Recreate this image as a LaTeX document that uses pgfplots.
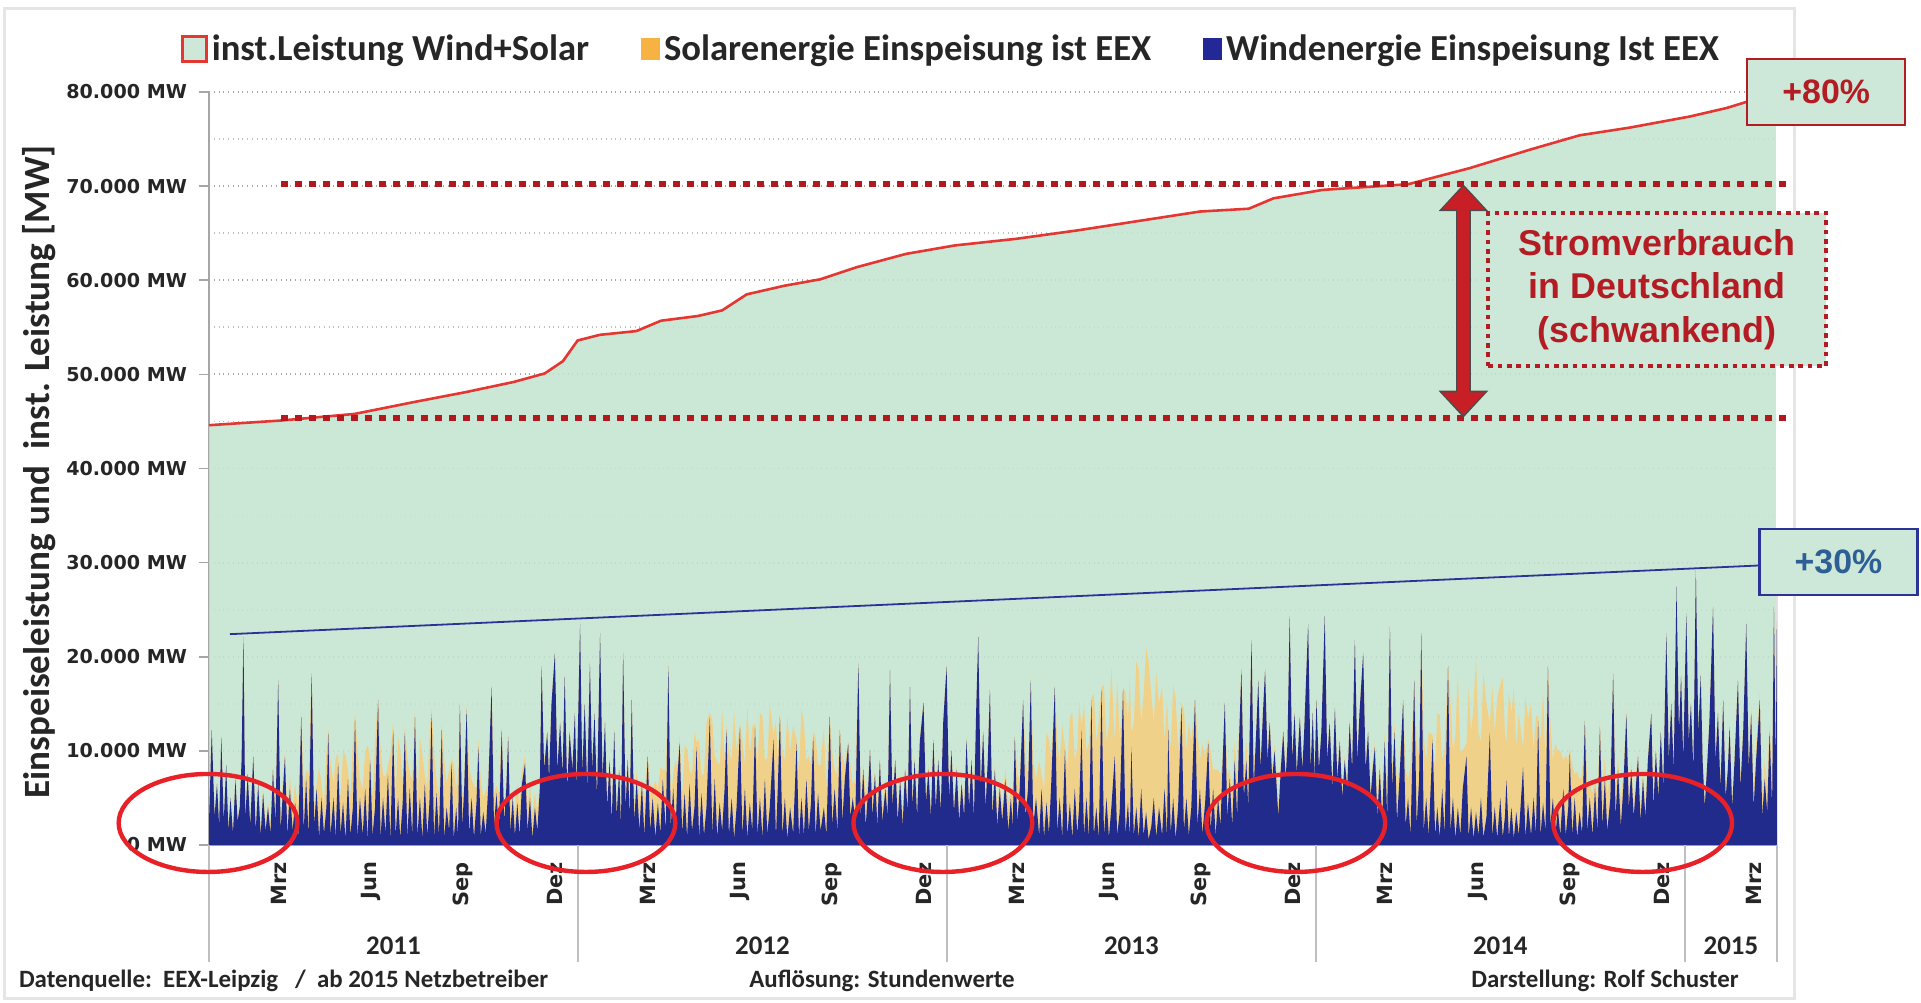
\documentclass[border=0pt]{standalone}
\usepackage{fontspec}
\setmainfont{Carlito}
\newfontfamily\tickfont{DejaVu Sans}
\newfontfamily\arialfont{Liberation Sans}
\usepackage{pgfplots}
\pgfplotsset{compat=1.18}
\usepackage{pgfplotstable}
\usetikzlibrary{arrows.meta}

\definecolor{greenfill}{RGB}{195,228,209}
\definecolor{greenbox}{RGB}{205,232,217}
\definecolor{redline}{RGB}{228,55,50}
\definecolor{solarfill}{RGB}{246,206,125}
\definecolor{solarleg}{RGB}{245,166,35}
\definecolor{windblue}{RGB}{33,43,140}
\definecolor{windleg}{RGB}{35,40,150}
\definecolor{circred}{RGB}{232,32,40}
\definecolor{darkred}{RGB}{180,28,36}
\definecolor{dotred}{RGB}{178,24,30}
\definecolor{arrowred}{RGB}{200,30,38}
\definecolor{navy}{RGB}{45,50,150}
\definecolor{steel}{RGB}{45,95,150}

\pgfplotstableread{
m cap
0.00 44600
2.35 45100
4.74 45800
6.73 47100
8.33 48100
9.92 49200
10.92 50100
11.51 51400
11.99 53600
12.71 54200
13.90 54600
14.70 55700
15.90 56200
16.69 56800
17.49 58500
18.69 59400
19.88 60100
21.08 61400
22.67 62800
24.26 63700
26.25 64400
28.25 65300
30.24 66300
32.23 67300
33.82 67600
34.62 68700
36.22 69600
39.00 70200
40.99 71900
42.99 73900
44.58 75400
46.18 76200
48.17 77400
49.36 78300
50.96 79900
}\capacity

\pgfplotstableread{
m wind solar
0.00 2500 200
0.09 12200 0
0.18 3000 300
0.26 6500 200
0.33 2000 300
0.40 11500 0
0.48 2500 300
0.56 8500 200
0.63 1500 300
0.70 5000 200
0.78 1200 300
0.86 7000 200
0.93 2500 300
1.00 4000 300
1.06 9000 200
1.12 22100 0
1.18 3000 400
1.26 7500 300
1.34 2000 500
1.44 9400 300
1.52 1500 600
1.60 6500 400
1.68 1000 700
1.76 5500 500
1.84 1500 800
1.92 4000 700
2.00 1200 1000
2.08 8000 600
2.16 2500 1200
2.25 17500 300
2.33 1500 1500
2.40 5500 1200
2.47 9400 500
2.55 1000 2000
2.63 6000 1500
2.72 1500 2500
2.80 4500 2000
2.90 800 3000
3.00 13600 500
3.08 1500 5000
3.16 7000 1000
3.24 1000 6500
3.34 18200 300
3.42 2000 2000
3.50 6000 500
3.58 800 7500
3.66 5000 1500
3.74 1200 3000
3.82 4000 6000
3.88 11900 500
3.95 1000 8000
4.05 5000 1500
4.12 800 8500
4.20 8700 1000
4.28 1200 3500
4.36 4500 5500
4.44 600 9000
4.52 7000 1000
4.60 1000 4000
4.68 4000 7000
4.75 13300 800
4.83 800 9500
4.91 5000 2000
5.00 1000 5000
5.08 6000 4000
5.16 600 10000
5.24 9000 500
5.32 1000 4000
5.40 4000 7000
5.50 15400 500
5.58 800 9500
5.66 5000 2500
5.74 1200 6000
5.82 7500 1000
5.90 600 9000
5.99 12200 1000
6.07 1000 4000
6.15 5000 6500
6.22 700 9500
6.30 4500 2000
6.37 11900 1000
6.45 800 8500
6.53 6000 1500
6.61 1000 6000
6.70 13600 800
6.78 900 3000
6.86 5000 6500
6.94 700 9000
7.02 6500 1000
7.10 1000 5000
7.17 4500 7000
7.24 13900 800
7.32 800 9000
7.40 5500 1500
7.48 1000 4500
7.57 12200 800
7.65 700 8500
7.73 4000 2500
7.81 1500 6500
7.89 8700 500
7.96 600 8000
8.04 4000 2000
8.10 1000 6500
8.16 14900 500
8.24 2000 3000
8.30 6000 1000
8.38 14400 500
8.46 1200 7000
8.54 5000 2000
8.62 800 5500
8.70 4500 1500
8.76 10400 800
8.84 1000 6000
8.92 3500 1500
9.00 1200 4500
9.08 6000 800
9.19 16800 300
9.27 2000 3500
9.35 5500 800
9.43 1500 4000
9.52 12200 500
9.60 2500 1500
9.67 6000 500
9.73 11500 500
9.80 1500 3000
9.88 5000 500
9.95 1000 2500
10.03 4500 2000
10.10 1000 3000
10.18 6500 1500
10.28 8700 800
10.36 1500 2500
10.44 5000 1500
10.52 700 2500
10.60 4000 1500
10.68 1500 2000
10.76 6000 800
10.82 19000 200
10.90 8000 800
11.00 12000 300
11.06 7000 500
11.14 15000 300
11.25 20400 200
11.33 8000 500
11.42 13000 300
11.50 7500 500
11.57 17900 200
11.65 6000 500
11.73 12000 300
11.82 8000 400
11.90 14000 300
11.96 6000 500
12.07 23500 100
12.14 7500 400
12.22 15000 300
12.30 6000 500
12.39 19300 200
12.46 8000 400
12.54 14000 300
12.62 5000 500
12.72 22500 100
12.80 7000 400
12.88 13000 300
12.95 4000 600
13.03 9000 500
13.10 2500 800
13.18 12000 400
13.26 3000 900
13.34 8000 600
13.40 2000 1000
13.47 20400 200
13.55 4000 1000
13.62 9000 700
13.68 3000 1200
13.75 15400 300
13.83 2500 1500
13.91 7000 1000
14.00 1500 3000
14.08 6500 500
14.16 1000 4000
14.27 9400 300
14.35 1500 5000
14.43 5000 1000
14.52 800 6000
14.60 4500 1500
14.68 1200 7000
14.76 7000 1000
14.86 1500 6500
14.94 19000 500
15.02 2000 3000
15.10 6000 1500
15.17 1000 8000
15.24 7500 800
15.31 10800 1000
15.39 1200 4000
15.47 5500 5000
15.55 800 9500
15.63 6500 1500
15.71 1500 6000
15.79 4000 8000
15.86 10400 500
15.94 800 10500
16.02 5500 2000
16.10 1000 6500
16.18 4000 9000
16.29 13600 500
16.37 1200 12000
16.45 7000 2500
16.53 800 8000
16.61 4500 4000
16.69 1500 13000
16.77 6000 3000
16.83 12200 500
16.91 1000 9000
17.00 5000 4000
17.08 700 13500
17.16 4000 6000
17.27 12500 500
17.35 1000 10000
17.43 6000 2500
17.51 800 14000
17.59 4500 5000
17.67 1500 11000
17.76 12500 500
17.84 1000 7000
17.92 5000 9000
18.00 800 13000
18.08 7000 2000
18.16 1200 8000
18.24 4000 11000
18.36 11200 500
18.44 800 12500
18.50 6000 3000
18.57 13600 500
18.65 1000 9000
18.73 5000 4000
18.81 700 13000
18.90 4000 6000
19.00 1200 11500
19.11 10800 500
19.19 800 7000
19.27 5000 9500
19.35 1000 12000
19.43 7000 2000
19.51 1500 8000
19.58 4500 4000
19.65 11500 500
19.73 1000 10500
19.81 5500 3000
19.89 1500 7000
20.00 4000 8500
20.08 1000 5000
20.19 13600 300
20.27 2000 8000
20.35 6000 2000
20.44 1500 6000
20.52 12200 300
20.60 2500 7000
20.68 7000 1500
20.79 10800 300
20.86 3000 5500
20.94 5000 1500
21.02 2500 4500
21.12 19300 300
21.20 3000 2000
21.28 8000 500
21.36 2000 3500
21.44 6000 800
21.50 10100 300
21.58 3000 2500
21.66 7500 500
21.74 2000 2000
21.82 9000 300
21.90 2500 1500
22.00 6000 1000
22.07 3000 1500
22.15 18600 300
22.23 4000 1000
22.32 9000 500
22.40 2500 1200
22.48 7000 700
22.56 2000 1200
22.64 8000 600
22.72 3500 1000
22.80 16800 300
22.88 4000 800
22.95 9000 500
23.03 3000 800
23.12 11000 400
23.24 15100 300
23.32 4500 600
23.40 8000 500
23.48 3000 700
23.56 11200 300
23.64 4000 600
23.72 9000 400
23.80 3500 600
23.88 13000 300
23.99 19000 200
24.07 5000 600
24.15 10000 400
24.23 3500 700
24.32 8000 500
24.40 2500 800
24.48 6500 600
24.56 3000 800
24.64 11200 300
24.72 4000 700
24.80 9000 500
24.88 3000 800
24.95 14000 300
25.02 22100 100
25.10 6000 600
25.18 12000 400
25.26 4000 800
25.33 9000 600
25.40 16500 300
25.48 3000 900
25.56 8000 700
25.64 2000 1200
25.72 6000 1000
25.80 2500 1500
25.90 7000 1200
26.00 1500 3000
26.08 5000 800
26.14 2000 4000
26.21 11500 300
26.29 2500 5000
26.37 6000 1000
26.48 15400 300
26.56 3000 6000
26.64 6000 1500
26.73 17500 500
26.81 2000 7000
26.90 5000 2000
27.00 1000 8000
27.08 6000 1500
27.16 800 5000
27.24 4500 7500
27.32 1200 10000
27.40 7000 2000
27.51 16800 300
27.59 1500 9500
27.67 5000 3500
27.75 800 12000
27.84 10100 500
27.92 1000 7000
28.00 4500 9000
28.08 700 13500
28.16 6000 3000
28.24 1200 9000
28.30 4000 11000
28.38 12200 500
28.46 1000 14000
28.54 5000 5000
28.62 800 10000
28.70 15400 300
28.78 1000 15000
28.86 4000 7000
28.94 700 12500
29.03 16500 300
29.11 1000 16000
29.19 5000 6000
29.27 800 12000
29.35 4000 15000
29.46 9400 1500
29.54 1000 16500
29.62 3500 8000
29.73 16500 300
29.81 1200 15000
29.89 4500 9000
29.95 800 17000
30.00 10400 1500
30.08 1000 12000
30.16 4000 15500
30.24 700 18000
30.32 6000 7000
30.40 1000 15000
30.48 3500 17500
30.56 600 19000
30.65 2000 14000
30.73 5000 8000
30.81 800 17500
30.90 4000 11000
31.00 1000 16000
31.08 6000 5000
31.16 800 14500
31.20 12200 500
31.28 1200 9000
31.36 5000 12000
31.44 700 15000
31.52 4000 6000
31.63 14600 500
31.71 1500 13000
31.79 5000 5000
31.87 1000 12000
31.95 4000 7000
32.07 15400 300
32.15 2000 10000
32.23 6000 3000
32.31 1200 9500
32.40 4500 5000
32.50 10800 500
32.58 1500 8500
32.66 6000 2000
32.74 1000 7000
32.82 5000 3000
32.90 2000 5500
32.96 8000 1000
33.04 15100 300
33.12 3000 4500
33.20 7000 1000
33.28 2000 3500
33.36 9000 2000
33.44 3000 4000
33.50 11000 1500
33.58 18600 500
33.66 5000 3000
33.74 9000 2000
33.80 4000 3000
33.91 21800 300
33.98 6000 2000
34.06 12000 700
34.13 17500 400
34.20 8000 1000
34.28 14000 500
34.35 18600 300
34.43 9000 800
34.50 13000 600
34.58 7000 1000
34.66 10000 700
34.78 3000 1200
34.86 8000 800
34.94 12000 500
35.02 7000 700
35.08 11000 400
35.15 24300 100
35.23 9000 500
35.31 14000 300
35.38 7500 500
35.48 13600 300
35.56 8000 500
35.62 12000 300
35.75 23500 100
35.83 8000 500
35.90 14000 300
35.96 7000 500
36.02 15400 300
36.10 8000 500
36.18 12000 300
36.29 24300 100
36.37 9000 500
36.45 13000 300
36.54 6000 600
36.62 14600 300
36.70 7000 600
36.78 11000 400
36.86 5000 700
36.94 9000 500
37.02 6000 700
37.10 13000 400
37.18 8000 600
37.27 21800 200
37.35 9000 500
37.42 14000 300
37.54 20400 200
37.62 8000 600
37.70 12000 400
37.78 5000 800
37.85 8000 700
37.92 10400 600
38.00 3000 1500
38.08 8000 1200
38.16 2500 2000
38.24 11000 1000
38.32 3000 2500
38.41 23200 200
38.48 6000 2000
38.56 12000 1000
38.64 2500 4000
38.72 7000 1000
38.84 15400 300
38.92 2000 6000
39.00 5000 2000
39.08 1000 7500
39.20 17500 300
39.28 2000 9000
39.36 7000 2500
39.43 22500 200
39.51 1500 10000
39.59 5000 4000
39.67 1000 11000
39.80 11200 500
39.88 1000 7000
39.95 4000 10000
40.03 800 13000
40.11 6000 3000
40.19 1200 9000
40.30 19000 300
40.38 1500 14000
40.46 5000 5000
40.54 700 11000
40.62 4000 14500
40.70 1000 9000
40.78 6000 4000
40.90 9400 1500
40.97 800 16000
41.05 4000 8000
41.13 700 14000
41.21 3500 16500
41.29 1000 11000
41.37 5000 6000
41.45 800 17500
41.55 3000 12000
41.66 11900 1000
41.74 1000 16000
41.82 4000 8000
41.90 700 15000
42.00 5000 12000
42.08 800 17000
42.15 3000 9000
42.20 6900 4000
42.28 800 15500
42.36 4000 10000
42.44 700 16000
42.52 3500 7000
42.60 1000 13000
42.74 8300 2000
42.82 800 15000
42.90 4500 9000
43.00 1000 14000
43.08 5000 5000
43.16 1200 12500
43.23 13200 500
43.31 1000 10000
43.39 4500 12000
43.47 1500 7000
43.55 19000 300
43.63 2000 11000
43.71 5000 4000
43.79 800 10000
43.87 4000 6000
43.95 1000 9000
44.05 6000 3000
44.13 1000 8500
44.21 4000 5000
44.26 9700 800
44.34 1000 7500
44.42 5000 2500
44.50 800 7000
44.58 3500 3500
44.66 1200 6000
44.75 13200 300
44.83 1500 5000
44.91 5000 1500
45.00 1000 4500
45.08 6000 1000
45.16 1500 3500
45.24 12500 1000
45.32 2000 4000
45.40 7000 2500
45.48 1500 4000
45.58 5000 2500
45.67 18200 500
45.75 3000 3000
45.83 8000 1500
45.92 2000 2500
46.00 6000 1500
46.10 13900 500
46.18 4000 1500
46.26 8000 800
46.34 3000 1500
46.48 9400 600
46.56 2500 1500
46.64 7000 800
46.72 3000 1200
46.80 9000 500
46.91 13900 400
46.98 4000 1000
47.06 10000 500
47.14 5000 800
47.22 12000 400
47.30 6000 700
47.40 22500 200
47.48 9000 500
47.56 15000 300
47.64 8000 500
47.73 27500 100
47.81 12000 400
47.88 18000 300
47.95 9000 500
48.05 24600 100
48.13 11000 400
48.20 15000 300
48.28 8000 500
48.36 29200 100
48.44 12000 400
48.52 18000 300
48.58 9000 500
48.65 4000 700
48.72 8000 500
48.80 13000 400
48.92 25300 100
49.00 9000 500
49.08 14000 400
49.16 6000 700
49.25 15400 400
49.33 5000 800
49.40 8000 600
49.46 12500 500
49.54 4000 1000
49.62 9000 700
49.73 17500 400
49.81 6000 1000
49.90 12000 700
50.00 23500 300
50.08 8000 1200
50.16 14000 800
50.24 4000 2000
50.32 9000 1500
50.44 15400 800
50.52 3000 2500
50.60 7000 2000
50.68 3500 3000
50.76 12000 1200
50.84 4000 3000
50.90 25300 500
50.96 8000 2000
51.00 27000 500
}\energy

\begin{document}
\begin{tikzpicture}
\useasboundingbox (0,0) rectangle (960.5bp,501.5bp);
\fill[white] (0,0) rectangle (960.5bp,501.5bp);
\draw[black!10, line width=1.5bp] (2bp,2bp) rectangle (897bp,497bp);
\begin{axis}[
  at={(104.5bp,79bp)}, anchor=south west,
  scale only axis, width=784bp, height=376.5bp,
  xmin=0, xmax=51, ymin=0, ymax=80000,
  scaled y ticks=false,
  clip=false,
  axis x line*=bottom, axis y line*=left,
  axis line style={draw=black!35, line width=0.8bp},
  xtick={2,5,8,11,14,17,20,23,26,29,32,35,38,41,44,47,50},
  xticklabels={Mrz,Jun,Sep,Dez,Mrz,Jun,Sep,Dez,Mrz,Jun,Sep,Dez,Mrz,Jun,Sep,Dez,Mrz},
  x tick label style={rotate=90, anchor=east, font=\tickfont\bfseries\fontsize{10.5}{12}\selectfont, text=black!85, yshift=-4bp},
  xtick style={draw=none},
  ytick={0,10000,20000,30000,40000,50000,60000,70000,80000},
  yticklabels={0 MW,10.000 MW,20.000 MW,30.000 MW,40.000 MW,50.000 MW,60.000 MW,70.000 MW,80.000 MW},
  minor ytick={5000,15000,25000,35000,45000,55000,65000,75000},
  y tick label style={font=\tickfont\bfseries\fontsize{9.6}{11}\selectfont, text=black!85, xshift=-2.5bp},
  tick align=outside, major tick length=5bp, minor tick length=0pt,
  ytick style={draw=black!35, line width=0.8bp},
  ymajorgrids, yminorgrids,
  major grid style={draw=black!35, dotted, line width=0.9bp},
  minor grid style={draw=black!25, dotted, line width=0.9bp},
  ylabel={Einspeiseleistung und\ \ inst. Leistung [MW]},
  ylabel style={at={(axis description cs:-0.1084,0.4954)}, anchor=center, font=\bfseries\fontsize{18.6}{20}\selectfont, text=black!85},
  legend columns=3,
  legend style={at={(axis description cs:0.4738,1.057)}, anchor=center, draw=none, fill=none,
    font=\bfseries\fontsize{18.4}{20}\selectfont, text=black!85,
    /tikz/every even column/.append style={column sep=24bp}},
]
\addplot[fill=greenfill, fill opacity=0.85, draw=none, forget plot] table[x=m,y=cap]{\capacity} \closedcycle;
\addplot[draw=redline, line width=1.3bp,
  legend image code/.code={\draw[fill=greenbox, draw=redline, line width=1.5bp] (0bp,-6.3bp) rectangle (12bp,6.3bp);}]
  table[x=m,y=cap]{\capacity};
\addlegendentry{inst.Leistung Wind+Solar}
\addplot[fill=solarfill, fill opacity=0.85, draw=none,
  legend image code/.code={\fill[solarleg] (0bp,-5.5bp) rectangle (9.5bp,5.5bp);}]
  table[x=m, y expr=\thisrow{wind}+\thisrow{solar}]{\energy} \closedcycle;
\addlegendentry{Solarenergie Einspeisung ist EEX}
\addplot[fill=windblue, draw=none,
  legend image code/.code={\fill[windleg] (0bp,-5.5bp) rectangle (9.5bp,5.5bp);}]
  table[x=m,y=wind]{\energy} \closedcycle;
\addlegendentry{Windenergie Einspeisung Ist EEX}

% year separators and labels
\foreach \yr in {0,12,24,36,48,51}{
  \edef\tmp{\noexpand\draw[black!25, line width=0.8bp] (axis cs:\yr,0) -- ++(0,-58.5bp);}\tmp
}
\node[font=\bfseries\fontsize{13.5}{15}\selectfont, text=black!85] at ([yshift=-50.5bp]axis cs:6,0) {2011};
\node[font=\bfseries\fontsize{13.5}{15}\selectfont, text=black!85] at ([yshift=-50.5bp]axis cs:18,0) {2012};
\node[font=\bfseries\fontsize{13.5}{15}\selectfont, text=black!85] at ([yshift=-50.5bp]axis cs:30,0) {2013};
\node[font=\bfseries\fontsize{13.5}{15}\selectfont, text=black!85] at ([yshift=-50.5bp]axis cs:42,0) {2014};
\node[font=\bfseries\fontsize{13.5}{15}\selectfont, text=black!85] at ([yshift=-50.5bp]axis cs:49.5,0) {2015};

% dotted consumption band
\draw[dotred, line width=3bp, dash pattern=on 3.5bp off 3.5bp] (axis cs:2.35,70200) -- (axis cs:51.35,70200);
\draw[dotred, line width=3bp, dash pattern=on 3.5bp off 3.5bp] (axis cs:2.35,45400) -- (axis cs:51.35,45400);
\draw[black!70, line width=7.5bp, {Triangle[width=24bp,length=13.5bp]}-{Triangle[width=24bp,length=13.5bp]}] (axis cs:40.8,70200) -- (axis cs:40.8,45400);
\draw[arrowred, line width=6bp, {Triangle[width=21bp,length=11.5bp]}-{Triangle[width=21bp,length=11.5bp]}] ([yshift=-1.2bp]axis cs:40.8,70200) -- ([yshift=1.2bp]axis cs:40.8,45400);
\node[draw=darkred, line width=2.3bp, dash pattern=on 2.3bp off 2.4bp, fill=greenbox,
  minimum width=169bp, minimum height=76.5bp, align=center, text=darkred,
  font=\arialfont\bfseries\fontsize{18}{22}\selectfont] at (axis cs:47.1,59000)
  {Stromverbrauch\\in Deutschland\\(schwankend)};

% +30% trend
\draw[navy, line width=0.9bp] (axis cs:0.68,22400) -- (axis cs:50.44,29700);
\node[draw=navy, line width=1.2bp, fill=greenbox, minimum width=79bp, minimum height=33bp,
  text=steel, font=\arialfont\bfseries\fontsize{17}{19}\selectfont] at (axis cs:53.0,30050) {+30\%};
\node[draw=darkred, line width=1.2bp, fill=greenbox, minimum width=79bp, minimum height=33bp,
  text=darkred, font=\arialfont\bfseries\fontsize{17}{19}\selectfont] at (axis cs:52.6,80000) {+80\%};

% winter ellipses
\draw[circred, line width=2.2bp] (axis cs:-0.03,2340) ellipse [x radius=44.7bp, y radius=24.5bp];
\draw[circred, line width=2.2bp] (axis cs:12.26,2340) ellipse [x radius=44.7bp, y radius=24.5bp];
\draw[circred, line width=2.2bp] (axis cs:23.87,2340) ellipse [x radius=44.7bp, y radius=24.5bp];
\draw[circred, line width=2.2bp] (axis cs:35.35,2340) ellipse [x radius=44.7bp, y radius=24.5bp];
\draw[circred, line width=2.2bp] (axis cs:46.63,2340) ellipse [x radius=44.7bp, y radius=24.5bp];
\end{axis}

\node[anchor=west, font=\bfseries\fontsize{12.5}{14}\selectfont, text=black!85] at (6bp,11bp) {Datenquelle:\ \ EEX-Leipzig\ \ \ /\ \ ab 2015 Netzbetreiber};
\node[font=\bfseries\fontsize{12.5}{14}\selectfont, text=black!85] at (441bp,11bp) {Auflösung: Stundenwerte};
\node[font=\bfseries\fontsize{12.5}{14}\selectfont, text=black!85] at (802.5bp,11bp) {Darstellung: Rolf Schuster};
\end{tikzpicture}
\end{document}
